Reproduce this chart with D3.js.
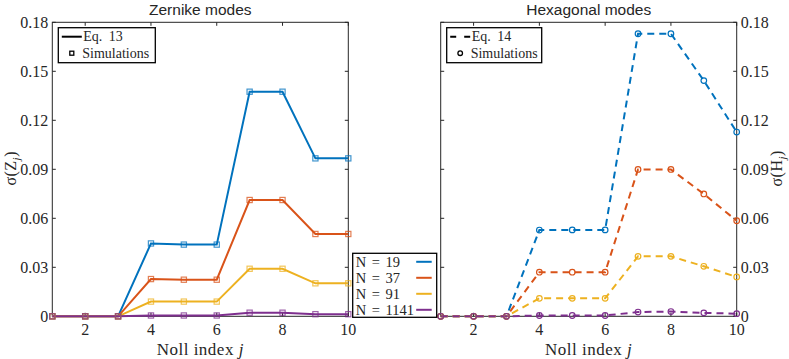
<!DOCTYPE html>
<html><head><meta charset="utf-8">
<script src="https://cdn.jsdelivr.net/npm/d3@7"></script>
<style>
body{margin:0;background:#fff;}
svg{display:block;}
text{fill:#262626;}
</style></head>
<body>
<svg id="c" width="789" height="359"></svg>
<script>
const nollIndex = [1,2,3,4,5,6,7,8,9,10];
const seriesNames = ["N = 19","N = 37","N = 91","N = 1141"];
const seriesColors = ["#0072BD","#D95319","#EDB120","#7E2F8E"];
const zernike19   = [0,0,0,0.0446,0.0439,0.0439,0.1375,0.1375,0.0967,0.0967];
const zernike37   = [0,0,0,0.0228,0.0224,0.0224,0.0712,0.0712,0.0504,0.0504];
const zernike91   = [0,0,0,0.0090,0.0090,0.0090,0.0291,0.0291,0.0202,0.0202];
const zernike1141 = [0,0,0,0.0005,0.0005,0.0005,0.0022,0.0022,0.0013,0.0013];
const hex19   = [0,0,0,0.0528,0.0529,0.0529,0.1730,0.1730,0.1443,0.1128];
const hex37   = [0,0,0,0.0270,0.0270,0.0270,0.0899,0.0899,0.0749,0.0585];
const hex91   = [0,0,0,0.0110,0.0110,0.0110,0.0367,0.0367,0.0306,0.0241];
const hex1141 = [0,0,0,0.0005,0.0005,0.0005,0.0026,0.0029,0.0021,0.0016];
const xTicks = [2,4,6,8,10];
const yTicks = [0,0.03,0.06,0.09,0.12,0.15,0.18];
const titles = ["Zernike modes","Hexagonal modes"];

const svg = d3.select("#c");
const serif = "'Liberation Serif','DejaVu Serif',serif";
const sans = "'Liberation Sans',Arial,sans-serif";
const axisCol = "#262626";
const yTop = 22.3, yBot = 316.3;
const y = d3.scaleLinear().domain([0,0.18]).range([yBot,yTop]);
const fmt = v => v===0 ? "0" : d3.format(".2f")(v);

function panel(x0, x1, title, data, dashed, yRight, labelX, labelMain, labelSub) {
  const x = d3.scaleLinear().domain([1,10]).range([x0,x1]);
  const g = svg.append("g");
  const tl = 3.5;
  xTicks.forEach(t => {
    g.append("line").attr("x1",x(t)).attr("x2",x(t)).attr("y1",yBot).attr("y2",yBot-tl).attr("stroke",axisCol);
    g.append("line").attr("x1",x(t)).attr("x2",x(t)).attr("y1",yTop).attr("y2",yTop+tl).attr("stroke",axisCol);
    g.append("text").attr("x",x(t)).attr("y",yBot+19).attr("text-anchor","middle")
      .attr("font-family",serif).attr("font-size",16).text(t);
  });
  yTicks.forEach(t => {
    g.append("line").attr("x1",x0).attr("x2",x0+tl).attr("y1",y(t)).attr("y2",y(t)).attr("stroke",axisCol);
    g.append("line").attr("x1",x1).attr("x2",x1-tl).attr("y1",y(t)).attr("y2",y(t)).attr("stroke",axisCol);
    g.append("text").attr("x", yRight ? x1+4 : x0-4).attr("y",y(t)+5.3)
      .attr("text-anchor", yRight ? "start" : "end")
      .attr("font-family",serif).attr("font-size",16).text(fmt(t));
  });
  g.append("rect").attr("x",x0).attr("y",yTop).attr("width",x1-x0).attr("height",yBot-yTop)
    .attr("fill","none").attr("stroke",axisCol).attr("stroke-width",1);
  g.append("text").attr("x",(x0+x1)/2).attr("y",15).attr("text-anchor","middle")
    .attr("font-family",sans).attr("font-size",15.5).attr("fill","#000").text(title);
  const xl = g.append("text").attr("x",(x0+x1)/2).attr("y",354.5).attr("text-anchor","middle")
    .attr("font-family",serif).attr("font-size",17).attr("letter-spacing",0.5);
  xl.append("tspan").text("Noll index ");
  xl.append("tspan").attr("font-style","italic").text("j");
  const yl = g.append("text").attr("transform",`translate(${labelX},${(yTop+yBot)/2 - 1}) rotate(-90)`)
    .attr("text-anchor","middle").attr("font-family",serif).attr("font-size",16).attr("letter-spacing",0.5);
  yl.append("tspan").text("σ(" + labelMain);
  yl.append("tspan").attr("font-style","italic").attr("font-size",11).attr("dy",3.5).text(labelSub);
  yl.append("tspan").attr("dy",-3.5).text(")");
  const line = d3.line().x((d,i)=>x(nollIndex[i])).y(d=>y(d));
  data.forEach((vals,k) => {
    g.append("path").attr("d",line(vals)).attr("fill","none").attr("stroke",seriesColors[k])
      .attr("stroke-width",2).attr("stroke-dasharray", dashed ? "7,5" : null);
  });
  data.forEach((vals,k) => {
    vals.forEach((v,i) => {
      if (dashed) {
        g.append("circle").attr("cx",x(nollIndex[i])).attr("cy",y(v)).attr("r",2.8)
          .attr("fill","none").attr("stroke",seriesColors[k]).attr("stroke-width",1.2);
      } else {
        g.append("rect").attr("x",x(nollIndex[i])-2.6).attr("y",y(v)-2.6).attr("width",5.2).attr("height",5.2)
          .attr("fill","none").attr("stroke",seriesColors[k]).attr("stroke-width",1.2).attr("stroke-opacity",0.75);
      }
    });
  });
  const lx = x0+6, ly = 27.7;
  g.append("rect").attr("x",lx).attr("y",ly).attr("width",dashed?95:97).attr("height",35)
    .attr("fill","#fff").attr("stroke","#000").attr("stroke-width",1.3);
  g.append("line").attr("x1",lx+3.5).attr("x2",lx+23.5).attr("y1",ly+9).attr("y2",ly+9)
    .attr("stroke","#000").attr("stroke-width",2).attr("stroke-dasharray", dashed ? "6,8" : null);
  g.append("text").attr("x",lx+25).attr("y",ly+13.5).attr("font-family",serif).attr("font-size",14)
    .attr("word-spacing",3).text(dashed ? "Eq. 14" : "Eq. 13");
  if (dashed) {
    g.append("circle").attr("cx",lx+13.5).attr("cy",ly+25.5).attr("r",2.3).attr("fill","none").attr("stroke","#000").attr("stroke-width",1.3);
  } else {
    g.append("rect").attr("x",lx+11.5).attr("y",ly+23.5).attr("width",4).attr("height",4).attr("fill","none").attr("stroke","#000").attr("stroke-width",1.3);
  }
  g.append("text").attr("x",lx+24).attr("y",ly+30.5).attr("font-family",serif).attr("font-size",14)
    .text("Simulations");
}

panel(52.3, 348.3, titles[0], [zernike19,zernike37,zernike91,zernike1141], false, false, 16, "Z", "j");
panel(440.7, 736.7, titles[1], [hex19,hex37,hex91,hex1141], true, true, 782, "H", "j");

const nl = svg.append("g");
const nx = 352.7, ny = 253.3;
nl.append("rect").attr("x",nx).attr("y",ny).attr("width",84).attr("height",64)
  .attr("fill","#fff").attr("stroke","#000").attr("stroke-width",1.3);
seriesNames.forEach((s,i) => {
  const yy = ny + 8.5 + i*16;
  nl.append("text").attr("x",nx+3).attr("y",yy+5).attr("font-family",serif).attr("font-size",14.5)
    .attr("word-spacing",2).text(s);
  nl.append("line").attr("x1",nx+63.5).attr("x2",nx+79).attr("y1",yy).attr("y2",yy)
    .attr("stroke",seriesColors[i]).attr("stroke-width",2);
});
</script>
</body></html>
